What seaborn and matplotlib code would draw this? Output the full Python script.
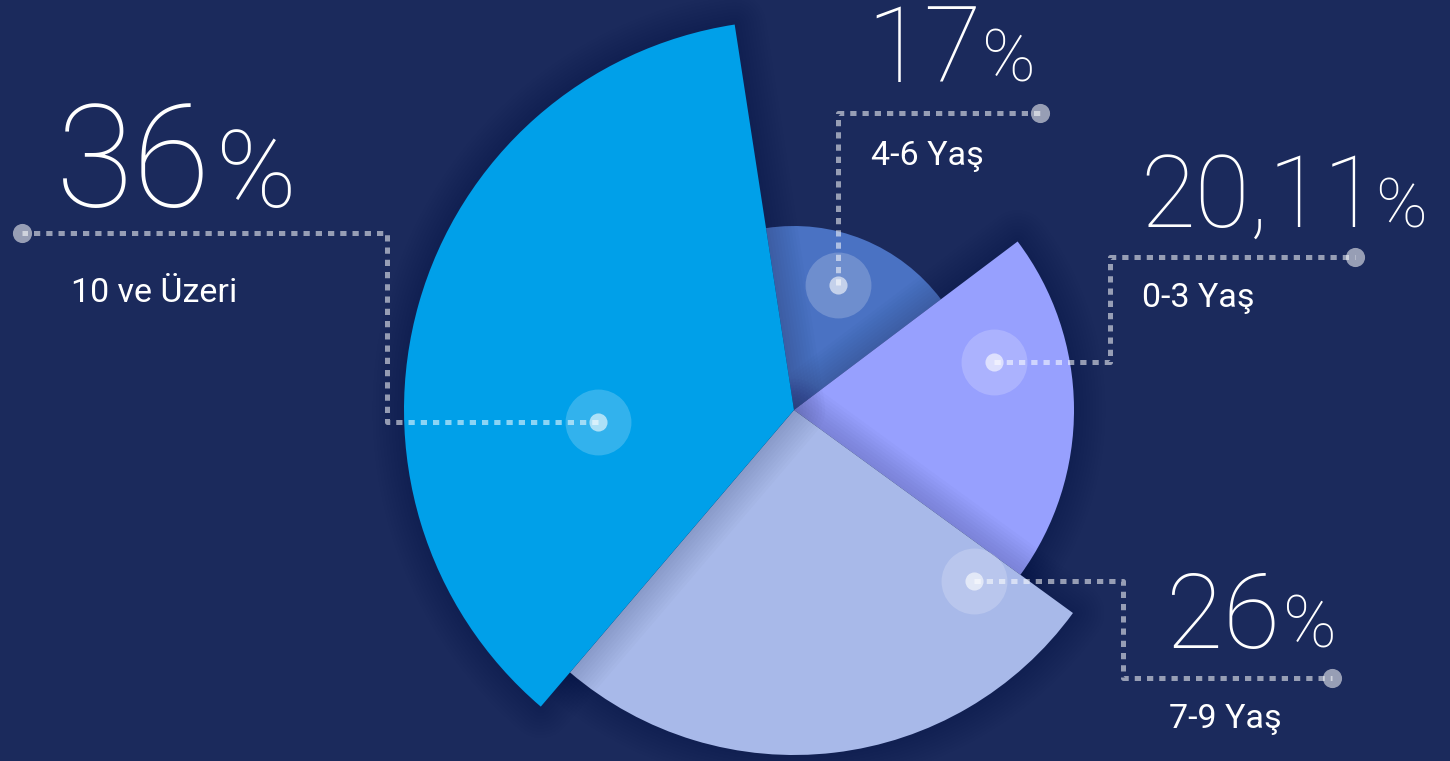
import matplotlib
matplotlib.use("Agg")
import matplotlib.pyplot as plt
import pandas as pd
import seaborn as sns

# data
age_groups = ['0-3 Yaş', '7-9 Yaş', '10 ve Üzeri', '4-6 Yaş']
shares = [20.11, 26, 36, 17]
share_text = ['20,11', '26', '36', '17']

# style / layout (pixels)
bg = '#1B2A5C'
slice_colors = ['#97A0FE', '#A8B9E9', '#00A0E9', '#4A72C3']
slice_radius = [280, 345, 390, 184]
slice_z = [4, 6, 8, 2]
center = (794, 410)
start = -37

marker_xy = [(994, 362), (974, 581), (598, 422), (838, 285)]
leader_paths = [
    [(994, 362), (1110, 362), (1110, 257), (1355, 257)],
    [(974, 581), (1123, 581), (1123, 678), (1332, 678)],
    [(598, 422), (387, 422), (387, 233), (22, 233)],
    [(838, 285), (838, 113), (1040, 113)],
]
number_xy = [(1140, 227), (1166, 648), (56, 207), (866, 82)]
number_size = [72, 75, 102, 76]
pct_size = [50, 52, 78, 52]
pct_gap = [-3, 3, 5, 0]
label_xy = [(1142, 307), (1169, 728), (71, 302), (871, 165)]

sns.set_style('dark', rc={'axes.facecolor': bg, 'figure.facecolor': bg})
plt.rcParams['font.family'] = ['Roboto', 'DejaVu Sans']

fig = plt.figure(figsize=(14.5, 7.61), dpi=100)
ax = fig.add_axes([0, 0, 1, 1])


def draw_slice(i, radius, z, **props):
    wedges, _ = ax.pie(shares, radius=radius, center=center, startangle=start,
                       counterclock=True, colors=slice_colors, wedgeprops=props)
    for k, w in enumerate(wedges):
        if k != i:
            w.remove()
    wedges[i].set_zorder(z)


# bóng mờ + lát bánh, vẽ từ dưới lên
for i in [3, 0, 1, 2]:
    if i != 3:
        for k in range(1, 11):
            draw_slice(i, slice_radius[i], slice_z[i] - 0.5, facecolor='none',
                       edgecolor=(0.02, 0.04, 0.15, 0.015), linewidth=k * 4.5,
                       joinstyle='round')
    draw_slice(i, slice_radius[i], slice_z[i], linewidth=0)

# đường dẫn nét chấm
for path in leader_paths:
    xs = [p[0] for p in path]
    ys = [p[1] for p in path]
    ax.plot(xs, ys, color='white', alpha=0.55, lw=3.6, linestyle=(0, (1.25, 1.2)),
            dash_capstyle='butt', solid_joinstyle='miter', zorder=10)

marks = pd.DataFrame({'x': [p[0] for p in marker_xy], 'y': [p[1] for p in marker_xy]})
ends = pd.DataFrame({'x': [p[-1][0] for p in leader_paths], 'y': [p[-1][1] for p in leader_paths]})
sns.scatterplot(data=marks, x='x', y='y', s=2250, color='white', alpha=0.2,
                linewidth=0, ax=ax, zorder=11)
sns.scatterplot(data=marks, x='x', y='y', s=170, color='white', alpha=0.6,
                linewidth=0, ax=ax, zorder=12)
sns.scatterplot(data=ends, x='x', y='y', s=190, color='white', alpha=0.55,
                linewidth=0, ax=ax, zorder=12)

ax.set_xlim(0, 1450)
ax.set_ylim(761, 0)
ax.set_aspect('equal', adjustable='box')
ax.axis('off')

renderer = fig.canvas.get_renderer()
for i in range(len(age_groups)):
    x, y = number_xy[i]
    t = ax.text(x, y, share_text[i], color='white', fontsize=number_size[i],
                fontweight='light', ha='left', va='baseline', zorder=20)
    ext = t.get_window_extent(renderer)
    ax.text(ext.x1 + pct_gap[i], y, '%', color='white', fontsize=pct_size[i],
            fontweight='light', ha='left', va='baseline', zorder=20)
    lx, ly = label_xy[i]
    ax.text(lx, ly, age_groups[i], color='white', fontsize=24.5,
            fontweight='normal', ha='left', va='baseline', zorder=20)

fig.savefig('out.png', dpi=100, facecolor=bg)
